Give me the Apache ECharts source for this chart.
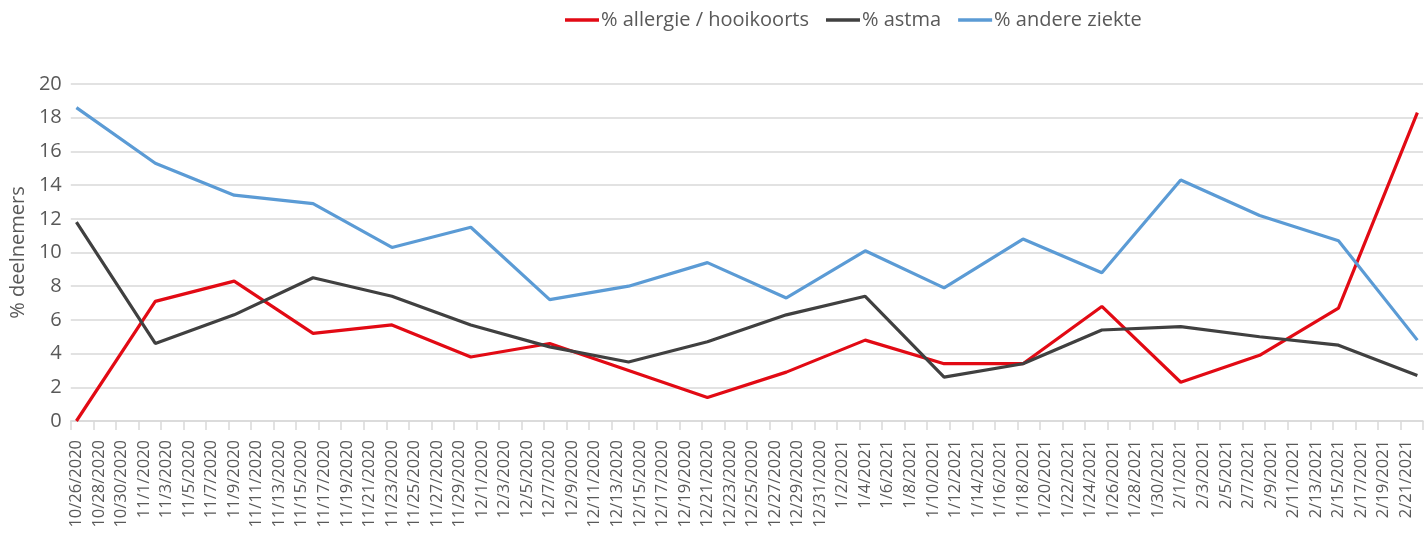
<!DOCTYPE html>
<html>
<head>
<meta charset="utf-8">
<script src="https://cdn.jsdelivr.net/npm/echarts@6/dist/echarts.min.js"></script>
<style>
  html, body { margin: 0; padding: 0; background: #fff; }
  #chart { width: 1424px; height: 541px; }
</style>
</head>
<body>
<div id="chart"></div>
<script>
// weekly survey dates (M/D/YYYY)
var surveyDates = ['10/26/2020', '11/2/2020', '11/9/2020', '11/16/2020', '11/23/2020', '11/30/2020',
    '12/7/2020', '12/14/2020', '12/21/2020', '12/28/2020', '1/4/2021', '1/11/2021',
    '1/18/2021', '1/25/2021', '2/1/2021', '2/8/2021', '2/15/2021', '2/22/2021'];
var allergie = [0, 7.1, 8.3, 5.2, 5.7, 3.8, 4.6, 3.0, 1.4, 2.9, 4.8, 3.4, 3.4, 6.8, 2.3, 3.9, 6.7, 18.3];
var astma = [11.8, 4.6, 6.3, 8.5, 7.4, 5.7, 4.4, 3.5, 4.7, 6.3, 7.4, 2.6, 3.4, 5.4, 5.6, 5.0, 4.5, 2.7];
var andere = [18.6, 15.3, 13.4, 12.9, 10.3, 11.5, 7.2, 8.0, 9.4, 7.3, 10.1, 7.9, 10.8, 8.8, 14.3, 12.2, 10.7, 4.8];
var seriesNames = ['% allergie / hooikoorts', '% astma', '% andere ziekte'];
var seriesColors = ['#E20A14', '#404040', '#5B9BD5'];
var firstDay = [2020, 9, 26];
var lastDay = [2021, 1, 22];

// daily category labels
var days = [];
var d = new Date(firstDay[0], firstDay[1], firstDay[2]);
var end = new Date(lastDay[0], lastDay[1], lastDay[2]);
while (d <= end) {
    days.push((d.getMonth() + 1) + '/' + d.getDate() + '/' + d.getFullYear());
    d.setDate(d.getDate() + 1);
}

function pairs(values) {
    var out = [];
    for (var i = 0; i < values.length; i++) {
        out.push([surveyDates[i], values[i]]);
    }
    return out;
}

var font = 'Open Sans';
var textColor = '#595959';
var chart = echarts.init(document.getElementById('chart'));
var allValues = [allergie, astma, andere];
var series = [];
for (var k = 0; k < seriesNames.length; k++) {
    series.push({
        name: seriesNames[k],
        type: 'line',
        data: pairs(allValues[k]),
        showSymbol: false,
        symbol: 'none',
        lineStyle: { width: 3.2, color: seriesColors[k] },
        itemStyle: { color: seriesColors[k] }
    });
}

chart.setOption({
    animation: false,
    color: seriesColors,
    legend: {
        left: 560,
        top: 5,
        icon: 'rect',
        itemWidth: 34,
        itemHeight: 3.5,
        itemGap: 17,
        textStyle: { fontFamily: font, fontSize: 20, color: textColor, padding: [0, 0, 0, -3] },
        data: seriesNames
    },
    grid: { left: 67, right: 1, top: 84, bottom: 120, containLabel: false },
    xAxis: {
        type: 'category',
        data: days,
        boundaryGap: true,
        axisLine: { lineStyle: { color: '#D9D9D9', width: 1.5 } },
        axisTick: { show: true, interval: 1, length: 9, lineStyle: { color: '#D9D9D9', width: 1.5 } },
        axisLabel: {
            interval: 1,
            rotate: 90,
            margin: 19,
            fontFamily: font,
            fontSize: 16.5,
            color: textColor
        }
    },
    yAxis: {
        type: 'value',
        min: 0,
        max: 20,
        interval: 2,
        name: '% deelnemers',
        nameLocation: 'middle',
        nameGap: 40,
        nameTextStyle: { fontFamily: font, fontSize: 20, color: textColor },
        axisLine: { show: false },
        axisTick: { show: false },
        axisLabel: { margin: 9, fontFamily: font, fontSize: 20, color: textColor },
        splitLine: { lineStyle: { color: '#D9D9D9', width: 1.5 } }
    },
    series: series
});
</script>
</body>
</html>
